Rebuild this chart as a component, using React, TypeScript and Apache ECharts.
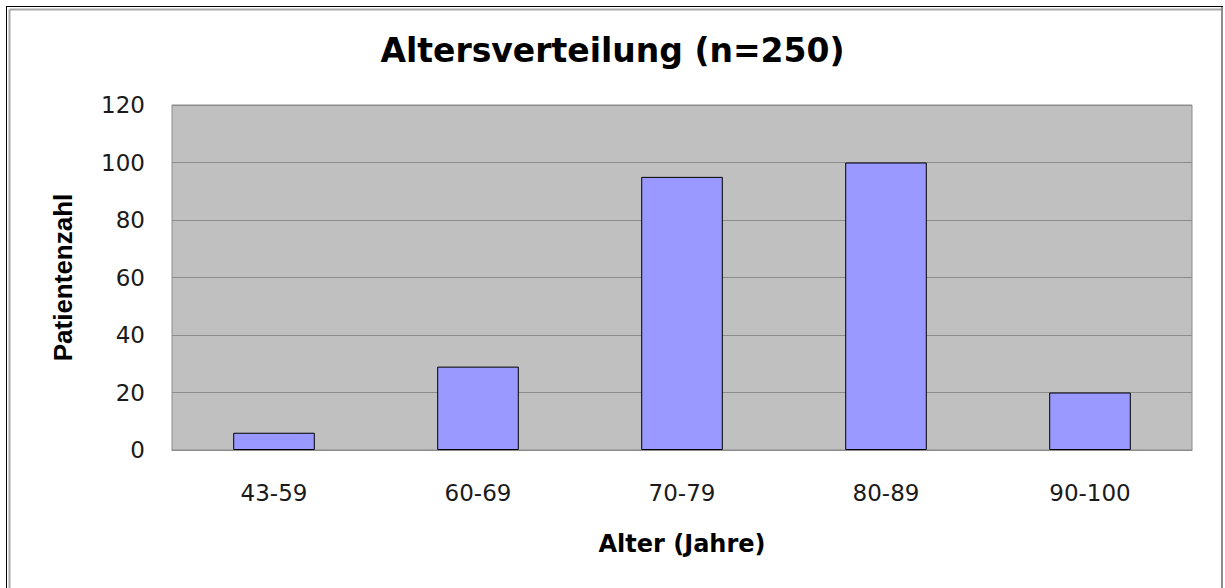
import React, { useEffect, useRef } from "react";
import * as echarts from "echarts";

const categories = ["43-59", "60-69", "70-79", "80-89", "90-100"];
const patients = [6, 29, 95, 100, 20];
const yTicks = { min: 0, max: 120, interval: 20 };
const titleText = "Altersverteilung (n=250)";
const xName = "Alter (Jahre)";
const yName = "Patientenzahl";

export default function App() {
  const ref = useRef<HTMLDivElement>(null);
  useEffect(() => {
    if (!ref.current) return;
    const chart = echarts.init(ref.current, null, { renderer: "svg" });
    chart.setOption({
      animation: false,
      backgroundColor: "#ffffff",
      title: {
        text: titleText,
        left: "center",
        top: 29,
        textStyle: {
          fontFamily: "DejaVu Sans",
          fontWeight: "bold",
          fontSize: 33,
          color: "#000",
        },
      },
      graphic: [
        { type: "line", shape: { x1: 6, y1: 6.5, x2: 1223, y2: 6.5 }, style: { stroke: "#000", lineWidth: 1 } },
        { type: "line", shape: { x1: 6.5, y1: 6, x2: 6.5, y2: 588 }, style: { stroke: "#000", lineWidth: 1 } },
        { type: "line", shape: { x1: 9.5, y1: 9.5, x2: 1221, y2: 9.5 }, style: { stroke: "#a8a8a8", lineWidth: 2 } },
        { type: "line", shape: { x1: 9.5, y1: 9.5, x2: 9.5, y2: 588 }, style: { stroke: "#a8a8a8", lineWidth: 2 } },
        { type: "line", shape: { x1: 1222, y1: 7, x2: 1222, y2: 588 }, style: { stroke: "#8c8c8c", lineWidth: 2 } },
      ],
      grid: {
        left: 172,
        right: 33,
        top: 105,
        bottom: 138,
        show: true,
        backgroundColor: "#c0c0c0",
        borderColor: "#8c8c8c",
        borderWidth: 1,
      },
      xAxis: {
        type: "category",
        data: categories,
        name: xName,
        nameLocation: "middle",
        nameGap: 82,
        nameTextStyle: {
          fontFamily: "DejaVu Sans",
          fontWeight: "bold",
          fontSize: 24,
          color: "#000",
        },
        axisLine: { show: true, lineStyle: { color: "#8c8c8c", width: 1 } },
        axisTick: { show: false },
        axisLabel: {
          fontFamily: "DejaVu Sans",
          fontSize: 23,
          color: "#1a1a1a",
          margin: 31,
        },
      },
      yAxis: {
        type: "value",
        min: yTicks.min,
        max: yTicks.max,
        interval: yTicks.interval,
        name: yName,
        nameLocation: "middle",
        nameGap: 96,
        nameRotate: 90,
        nameTextStyle: {
          fontFamily: "Liberation Sans",
          fontWeight: "bold",
          fontSize: 26,
          color: "#000",
        },
        axisLine: { show: false },
        axisTick: { show: false },
        splitLine: { show: true, lineStyle: { color: "#8c8c8c", width: 1 } },
        axisLabel: {
          fontFamily: "DejaVu Sans",
          fontSize: 23,
          color: "#1a1a1a",
          margin: 27,
        },
      },
      series: [
        {
          type: "bar",
          data: patients,
          barWidth: "40%",
          itemStyle: { color: "#9999ff", borderColor: "#000", borderWidth: 1 },
        },
      ],
    });
    return () => chart.dispose();
  }, []);
  return (
    <div
      ref={ref}
      style={{ position: "absolute", left: 0, top: 0, width: 1225, height: 588 }}
    />
  );
}
